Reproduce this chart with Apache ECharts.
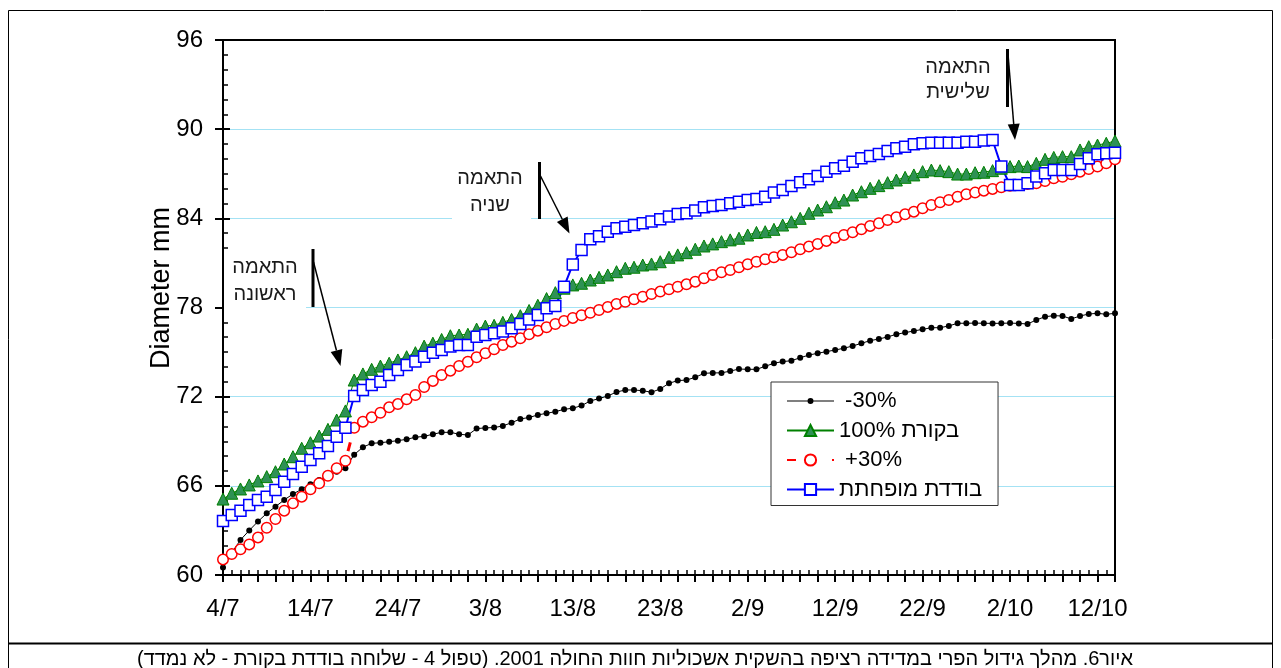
<!DOCTYPE html>
<html>
<head>
<meta charset="utf-8">
<script src="https://cdn.jsdelivr.net/npm/echarts@6/dist/echarts.min.js"></script>
<style>
  html, body { margin: 0; padding: 0; background: #fff; }
  #chart { width: 1281px; height: 668px; }
</style>
</head>
<body>
<div id="chart"></div>
<script>
// Date labels on the x axis, one every 10 days starting 4/7 (day 0)
const tickLabels = ['4/7', '14/7', '24/7', '3/8', '13/8', '23/8', '2/9', '12/9', '22/9', '2/10', '12/10'];

// Daily fruit diameter (mm), day 0 = 4/7 ... day 102 = 14/10
const minus30 = [
  60.5, 61.5, 62.36, 63.0, 63.6, 64.15, 64.6, 65.05, 65.45, 65.77,
  66.1, 66.4, 66.7, 66.95, 67.18, 68.1, 68.6, 68.86, 68.9, 68.97,
  69.04, 69.13, 69.27, 69.33, 69.47, 69.6, 69.6, 69.47, 69.42, 69.85,
  69.9, 69.92, 70.03, 70.25, 70.5, 70.6, 70.77, 70.88, 70.99, 71.15,
  71.22, 71.4, 71.71, 71.87, 72.05, 72.31, 72.45, 72.45, 72.4, 72.3,
  72.52, 72.9, 73.08, 73.12, 73.3, 73.57, 73.6, 73.6, 73.72, 73.86,
  73.84, 73.84, 74.04, 74.25, 74.36, 74.42, 74.62, 74.8, 74.92, 75.03,
  75.14, 75.26, 75.41, 75.59, 75.77, 75.88, 76.02, 76.2, 76.31, 76.42,
  76.53, 76.64, 76.64, 76.76, 76.94, 76.94, 76.95, 76.94, 76.93, 76.94,
  76.95, 76.93, 76.89, 77.16, 77.38, 77.45, 77.43, 77.23, 77.43, 77.56,
  77.61, 77.54, 77.61
];
const control100 = [
  65.11, 65.5, 65.79, 66.06, 66.33, 66.62, 66.95, 67.47, 67.96, 68.53,
  68.9, 69.35, 69.8, 70.43, 71.04, 73.12, 73.53, 73.84, 74.06, 74.25,
  74.47, 74.69, 74.96, 75.4, 75.6, 75.85, 76.1, 76.15, 76.2, 76.55,
  76.75, 76.8, 77.0, 77.2, 77.45, 77.8, 78.15, 78.6, 79.0, 79.3,
  79.52, 79.63, 79.85, 80.03, 80.19, 80.41, 80.64, 80.71, 80.86, 80.93,
  81.08, 81.38, 81.54, 81.69, 81.92, 82.14, 82.28, 82.43, 82.55, 82.66,
  82.88, 83.05, 83.1, 83.26, 83.55, 83.77, 84.0, 84.34, 84.56, 84.78,
  85.05, 85.23, 85.57, 85.79, 86.02, 86.2, 86.4, 86.58, 86.76, 86.92,
  87.14, 87.25, 87.21, 87.14, 86.98, 86.98, 87.07, 87.1, 87.21, 87.37,
  87.48, 87.52, 87.48, 87.7, 87.97, 88.1, 88.15, 88.15, 88.6, 88.82,
  88.93, 89.05, 89.2
];
const plus30 = [
  61.05, 61.41, 61.73, 62.06, 62.53, 63.18, 63.77, 64.33, 64.82, 65.27,
  65.77, 66.17, 66.68, 67.18, 67.69, 69.91, 70.32, 70.61, 70.92, 71.28,
  71.5, 71.82, 72.11, 72.65, 73.06, 73.46, 73.75, 74.06, 74.35, 74.65,
  74.92, 75.19, 75.48, 75.7, 75.93, 76.2, 76.44, 76.67, 76.89, 77.1,
  77.3, 77.48, 77.65, 77.83, 78.04, 78.24, 78.39, 78.55, 78.73, 78.91,
  79.07, 79.23, 79.4, 79.56, 79.74, 79.97, 80.19, 80.37, 80.52, 80.71,
  80.91, 81.08, 81.25, 81.38, 81.54, 81.72, 81.92, 82.1, 82.28, 82.48,
  82.7, 82.88, 83.06, 83.26, 83.49, 83.67, 83.89, 84.07, 84.27, 84.45,
  84.68, 84.9, 85.08, 85.23, 85.46, 85.62, 85.73, 85.86, 85.98, 86.09,
  86.2, 86.24, 86.31, 86.36, 86.51, 86.69, 86.8, 86.97, 87.14, 87.32,
  87.48, 87.7, 87.97
];
const reducedSingle = [
  63.63, 64.04, 64.33, 64.71, 65.05, 65.27, 65.72, 66.28, 66.8, 67.29,
  67.74, 68.19, 68.68, 69.31, 69.91, 72.04, 72.45, 72.79, 73.01, 73.46,
  73.8, 74.13, 74.36, 74.69, 74.95, 75.14, 75.37, 75.48, 75.48, 76.04,
  76.15, 76.27, 76.38, 76.6, 76.89, 77.2, 77.5, 77.95, 78.1, 79.4,
  80.9, 81.87, 82.6, 82.8, 83.1, 83.33, 83.44, 83.55, 83.67, 83.78,
  83.94, 84.12, 84.3, 84.34, 84.52, 84.74, 84.83, 84.9, 85.01, 85.12,
  85.23, 85.3, 85.45, 85.73, 85.91, 86.18, 86.42, 86.63, 86.85, 87.14,
  87.37, 87.54, 87.81, 88.04, 88.2, 88.33, 88.53, 88.71, 88.82, 88.98,
  89.05, 89.09, 89.09, 89.09, 89.09, 89.16, 89.16, 89.23, 89.27, 87.48,
  86.24, 86.24, 86.36, 86.81, 87.03, 87.25, 87.25, 87.25, 87.66, 88.04,
  88.31, 88.38, 88.42
];

const seriesNames = [' -30%', 'בקורת 100%', ' +30%', 'בודדת מופחתת'];
const captionText = 'איור6. מהלך גידול הפרי במדידה רציפה בהשקית אשכוליות חוות החולה 2001. (טפול 4 - שלוחה בודדת בקורת - לא נמדד)';

const FONT = 'Arial, "Liberation Sans", "DejaVu Sans", sans-serif';
const GRID = { left: 223, top: 40, width: 892, height: 535 };

const toPairs = arr => arr.map((v, i) => [i, v]);

// Legend icon for the -30% series: thin line with a small dot in the middle
const smallDotIcon = 'path://M0 0 L0.01 0 L0 0.01 Z M47 14 L46.99 14 L47 13.99 Z ' +
  'M0 6.5 L20.6 6.5 L20.6 7.5 L0 7.5 Z M26.4 6.5 L47 6.5 L47 7.5 L26.4 7.5 Z ' +
  'M26.5 7 A3 3 0 1 1 20.5 7 A3 3 0 1 1 26.5 7 Z';

// Annotation callouts: two text lines, a vertical bar and an arrow
const notes = [
  { lines: ['התאמה', 'ראשונה'], tx: 265, ty: [267, 294], box: [224, 250, 82, 62], bar: [313, 249, 307], from: [313.5, 262], tip: [340.5, 366] },
  { lines: ['התאמה', 'שניה'], tx: 490, ty: [178, 205], box: [452, 160, 79, 62], bar: [539.5, 162, 219], from: [540.5, 176], tip: [569.5, 233.5] },
  { lines: ['התאמה', 'שלישית'], tx: 958, ty: [67, 92], box: null, bar: [1007.5, 49, 107], from: [1008, 54], tip: [1015, 140] }
];

function arrowHead(from, tip, len, half) {
  const dx = tip[0] - from[0], dy = tip[1] - from[1];
  const d = Math.hypot(dx, dy);
  const ux = dx / d, uy = dy / d;
  const bx = tip[0] - ux * len, by = tip[1] - uy * len;
  return [[tip[0], tip[1]], [bx - uy * half, by + ux * half], [bx + uy * half, by - ux * half]];
}

const graphics = [];
// plot frame drawn above the gridlines
graphics.push({ type: 'rect', z: 1, silent: true,
  shape: { x: GRID.left, y: GRID.top, width: GRID.width, height: GRID.height },
  style: { fill: null, stroke: '#000', lineWidth: 2 } });
// outer frame and caption row
graphics.push({ type: 'rect', z: 20, silent: true, shape: { x: 8.5, y: 10.5, width: 1264, height: 700 },
  style: { fill: null, stroke: '#000', lineWidth: 1 } });
graphics.push({ type: 'line', z: 20, silent: true, shape: { x1: 8, y1: 643.5, x2: 1273, y2: 643.5 },
  style: { stroke: '#000', lineWidth: 2 } });
graphics.push({ type: 'text', z: 20, silent: true, x: 137, y: 659,
  style: { text: '\u202B' + captionText + '\u202C', fontSize: 20, fontFamily: FONT, fill: '#000', align: 'left', verticalAlign: 'middle' } });
// y-axis title
graphics.push({ type: 'text', z: 20, silent: true, x: 162, y: 288, rotation: Math.PI / 2,
  style: { text: 'Diameter mm', fontSize: 27, fontFamily: FONT, fill: '#000', align: 'center', verticalAlign: 'middle' } });

notes.forEach(n => {
  if (n.box) {
    graphics.push({ type: 'rect', z: 1, silent: true, shape: { x: n.box[0], y: n.box[1], width: n.box[2], height: n.box[3] },
      style: { fill: '#fff', stroke: null } });
  }
  n.lines.forEach((t, k) => {
    graphics.push({ type: 'text', z: 15, silent: true, x: n.tx, y: n.ty[k],
      style: { text: t, fontSize: 20, fontFamily: FONT, fill: '#1a1a1a', align: 'center', verticalAlign: 'middle' } });
  });
  graphics.push({ type: 'line', z: 15, silent: true, shape: { x1: n.bar[0], y1: n.bar[1], x2: n.bar[0], y2: n.bar[2] },
    style: { stroke: '#000', lineWidth: 3 } });
  const head = arrowHead(n.from, n.tip, 16, 6);
  const lineEnd = [(head[1][0] + head[2][0]) / 2, (head[1][1] + head[2][1]) / 2];
  graphics.push({ type: 'line', z: 15, silent: true, shape: { x1: n.from[0], y1: n.from[1], x2: lineEnd[0], y2: lineEnd[1] },
    style: { stroke: '#000', lineWidth: 1.5 } });
  graphics.push({ type: 'polygon', z: 15, silent: true, shape: { points: head }, style: { fill: '#000', stroke: null } });
});

const chart = echarts.init(document.getElementById('chart'), null, { renderer: 'canvas', width: 1281, height: 668 });

chart.setOption({
  animation: false,
  backgroundColor: '#fff',
  textStyle: { fontFamily: FONT },
  grid: Object.assign({ show: false, containLabel: false, outerBoundsMode: 'none' }, GRID),
  xAxis: [
    {
      type: 'value', min: 0, max: 102, interval: 2, position: 'bottom',
      axisLine: { show: true, onZero: false, lineStyle: { color: '#000', width: 2 } },
      axisTick: { show: true, inside: false, length: 7, lineStyle: { color: '#000', width: 2 } },
      axisLabel: {
        show: true, margin: 22, color: '#000', fontSize: 24, fontFamily: FONT,
        showMinLabel: true, showMaxLabel: true, hideOverlap: false,
        formatter: v => (v % 10 === 0 ? (tickLabels[v / 10] || '') : '')
      },
      splitLine: { show: false }
    },
    {
      type: 'value', min: 0, max: 102, interval: 1, position: 'bottom', gridIndex: 0,
      axisLine: { show: false, onZero: false },
      axisTick: { show: true, inside: true, length: 5, lineStyle: { color: '#000', width: 1.5 } },
      axisLabel: { show: false },
      splitLine: { show: false }
    }
  ],
  yAxis: [
    {
      type: 'value', min: 60, max: 96, interval: 6, position: 'left',
      axisLine: { show: true, onZero: false, lineStyle: { color: '#000', width: 2 } },
      axisTick: { show: true, inside: false, length: 8, lineStyle: { color: '#000', width: 2 } },
      axisLabel: { show: true, margin: 20, color: '#000', fontSize: 24, fontFamily: FONT },
      splitLine: { show: true, lineStyle: { color: '#a4e2f4', width: 1 } }
    },
    {
      type: 'value', min: 60, max: 96, interval: 6, position: 'left', gridIndex: 0,
      axisLine: { show: false, onZero: false },
      axisTick: { show: true, inside: true, length: 7, lineStyle: { color: '#000', width: 2 } },
      minorTick: { show: true, splitNumber: 6, length: 5, lineStyle: { color: '#000', width: 1.5 } },
      axisLabel: { show: false },
      splitLine: { show: false }
    }
  ],
  legend: {
    show: true, orient: 'vertical', left: 771, top: 382,
    padding: [8, 16, 5, 15], itemGap: 7.5, itemWidth: 47, itemHeight: 14,
    backgroundColor: '#fff', borderColor: '#333', borderWidth: 1, borderRadius: 0,
    textStyle: { color: '#000', fontSize: 22, lineHeight: 22, fontFamily: FONT },
    selectedMode: false,
    data: [
      { name: seriesNames[0], icon: smallDotIcon },
      { name: seriesNames[1] },
      { name: seriesNames[2] },
      { name: seriesNames[3] }
    ]
  },
  graphic: { elements: graphics },
  series: [
    {
      name: seriesNames[0], type: 'line', xAxisIndex: 0, yAxisIndex: 0,
      data: toPairs(minus30),
      symbol: 'circle', symbolSize: 6, showSymbol: true,
      itemStyle: { color: '#000' },
      lineStyle: { color: '#000', width: 1 },
      emphasis: { disabled: true }
    },
    {
      name: seriesNames[1], type: 'line', xAxisIndex: 0, yAxisIndex: 0,
      data: toPairs(control100),
      symbol: 'triangle', symbolSize: 12, showSymbol: true,
      itemStyle: { color: '#2f9155', borderColor: '#008000', borderWidth: 1 },
      lineStyle: { color: '#008000', width: 1 },
      emphasis: { disabled: true }
    },
    {
      name: seriesNames[2], type: 'line', xAxisIndex: 0, yAxisIndex: 0,
      data: toPairs(plus30),
      symbol: 'circle', symbolSize: 10.5, showSymbol: true,
      itemStyle: { color: '#fff', borderColor: '#ff0000', borderWidth: 1.5 },
      lineStyle: { color: '#ff0000', width: 3, type: [9, 36, 3, 36] },
      emphasis: { disabled: true }
    },
    {
      name: seriesNames[3], type: 'line', xAxisIndex: 0, yAxisIndex: 0,
      data: toPairs(reducedSingle),
      symbol: 'rect', symbolSize: 11, showSymbol: true,
      itemStyle: { color: '#fff', borderColor: '#0000ff', borderWidth: 1.5 },
      lineStyle: { color: '#0000ff', width: 2 },
      emphasis: { disabled: true }
    }
  ]
});
</script>
</body>
</html>
